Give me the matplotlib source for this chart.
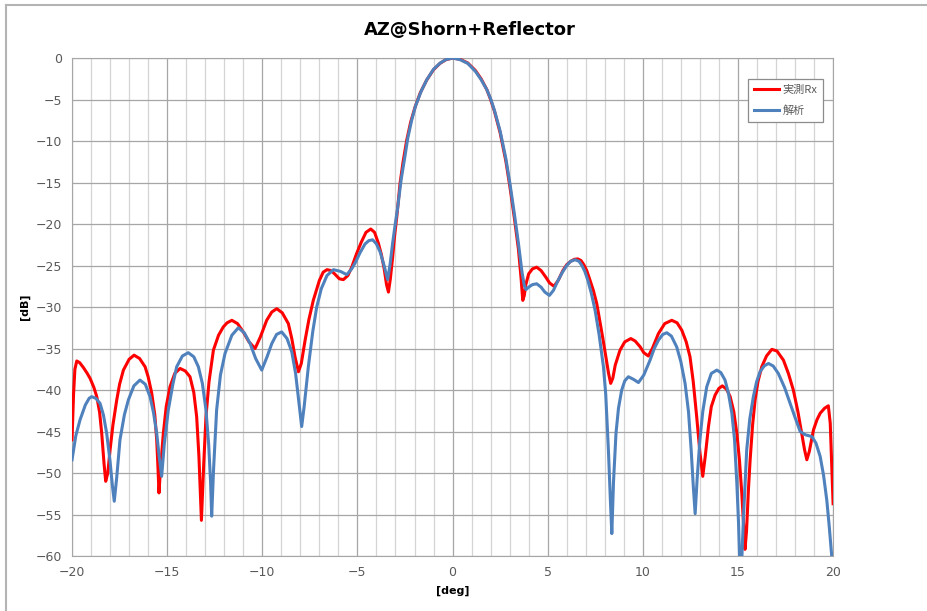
import matplotlib
matplotlib.use("Agg")
import matplotlib.pyplot as plt
from matplotlib.ticker import MultipleLocator
from matplotlib.lines import Line2D

# measured (実測Rx): angle [deg], level [dB]
rx_deg = [-20.0, -19.92, -19.85, -19.75, -19.6, -19.4, -19.2, -19.05, -18.85, -18.7,
          -18.55, -18.44, -18.32, -18.23, -18.12, -18.0, -17.85, -17.65, -17.5, -17.3,
          -17.0, -16.74, -16.45, -16.16, -16.0, -15.81, -15.65, -15.55, -15.48, -15.43,
          -15.35, -15.2, -15.05, -14.85, -14.6, -14.32, -14.05, -13.8, -13.6, -13.45,
          -13.33, -13.2, -13.08, -12.96, -12.8, -12.57, -12.3, -12.05, -11.85, -11.6,
          -11.3, -11.0, -10.7, -10.38, -10.1, -9.77, -9.5, -9.24, -8.95, -8.63,
          -8.45, -8.28, -8.1, -7.95, -7.75, -7.55, -7.32, -7.0, -6.8, -6.6,
          -6.4, -6.2, -5.95, -5.74, -5.5, -5.3, -5.05, -4.8, -4.55, -4.3,
          -4.1, -3.9, -3.75, -3.6, -3.47, -3.37, -3.27, -3.15, -3.05, -2.93,
          -2.76, -2.6, -2.41, -2.2, -1.97, -1.7, -1.36, -1.0, -0.66, -0.35,
          0.0, 0.4, 0.8, 1.2, 1.5, 1.8, 2.0, 2.2, 2.5, 2.8,
          3.02, 3.25, 3.46, 3.6, 3.69, 3.77, 3.85, 4.0, 4.2, 4.42,
          4.65, 4.9, 5.1, 5.33, 5.55, 5.8, 6.0, 6.2, 6.4, 6.58,
          6.75, 6.9, 7.05, 7.2, 7.4, 7.58, 7.75, 7.9, 8.1, 8.2,
          8.31, 8.42, 8.55, 8.8, 9.05, 9.37, 9.6, 9.86, 10.05, 10.29,
          10.5, 10.82, 11.15, 11.52, 11.8, 12.05, 12.28, 12.48, 12.65, 12.83,
          13.0, 13.15, 13.28, 13.45, 13.6, 13.8, 14.0, 14.18, 14.4, 14.59,
          14.78, 14.94, 15.08, 15.2, 15.3, 15.37, 15.45, 15.55, 15.64, 15.77,
          15.9, 16.05, 16.25, 16.5, 16.78, 17.05, 17.39, 17.65, 17.91, 18.15,
          18.35, 18.5, 18.62, 18.75, 18.97, 19.15, 19.32, 19.55, 19.75, 19.85,
          19.93, 20.0]
rx_db = [-46.0, -40.5, -37.5, -36.5, -36.7, -37.3, -38.0, -38.6, -39.7, -40.8,
         -42.7, -45.2, -48.8, -51.0, -50.0, -47.2, -44.2, -41.2, -39.3, -37.6,
         -36.3, -35.8, -36.2, -37.2, -38.4, -40.4, -43.0, -46.0, -49.5, -52.4,
         -49.5, -45.2, -42.0, -39.6, -38.0, -37.4, -37.7, -38.4, -40.3, -43.2,
         -48.0, -55.7, -49.0, -43.2, -39.0, -35.2, -33.4, -32.4, -31.9, -31.6,
         -32.0, -33.0, -34.2, -35.0, -33.6, -31.6, -30.6, -30.2, -30.7, -32.0,
         -33.8, -36.0, -37.8, -36.8, -34.0, -31.5, -29.2, -26.8, -25.8, -25.5,
         -25.6, -26.0, -26.6, -26.7, -26.2, -25.2, -23.6, -22.2, -21.0, -20.6,
         -21.0, -22.3, -23.6, -25.3, -27.3, -28.2, -26.6, -24.0, -21.5, -19.1,
         -15.1, -12.5, -9.9, -7.7, -5.9, -4.2, -2.65, -1.4, -0.64, -0.2,
         0.0, -0.15, -0.6, -1.5, -2.5, -3.8, -5.0, -6.4, -9.0, -12.4,
         -15.6, -19.3, -23.0, -26.5, -29.2, -28.6, -27.3, -26.0, -25.4, -25.2,
         -25.6, -26.4, -27.1, -27.5, -26.8, -25.6, -24.9, -24.5, -24.25, -24.2,
         -24.4, -24.9, -25.6, -26.6, -28.0, -29.6, -31.8, -33.8, -36.6, -38.0,
         -39.2, -38.6, -37.0, -35.2, -34.2, -33.8, -34.1, -34.8, -35.5, -35.9,
         -35.0, -33.2, -32.0, -31.6, -31.9, -32.8, -34.2, -36.0, -39.0, -43.2,
         -47.5, -50.4, -48.0, -44.4, -42.0, -40.6, -39.8, -39.5, -39.9, -40.8,
         -42.6, -45.2, -48.5, -52.4, -56.5, -59.2, -57.0, -52.0, -48.4, -44.2,
         -41.2, -39.0, -37.2, -35.9, -35.1, -35.3, -36.4, -38.0, -40.0, -42.6,
         -45.2, -47.2, -48.4, -47.4, -44.8, -43.6, -42.8, -42.2, -41.9, -44.0,
         -49.2, -53.7]

# analysis (解析): angle [deg], level [dB]
an_deg = [-20.0, -19.8, -19.58, -19.3, -19.1, -18.97, -18.75, -18.53, -18.35, -18.18,
          -18.0, -17.88, -17.78, -17.65, -17.48, -17.25, -17.04, -16.75, -16.43, -16.15,
          -15.9, -15.72, -15.55, -15.42, -15.29, -15.15, -14.94, -14.7, -14.5, -14.2,
          -13.89, -13.6, -13.36, -13.15, -12.96, -12.82, -12.72, -12.66, -12.56, -12.4,
          -12.2, -11.96, -11.6, -11.26, -10.95, -10.64, -10.35, -10.03, -9.75, -9.5,
          -9.25, -8.98, -8.7, -8.45, -8.25, -8.05, -7.93, -7.8, -7.58, -7.35,
          -7.14, -6.9, -6.6, -6.26, -5.9, -5.56, -5.3, -5.1, -4.85, -4.6,
          -4.4, -4.2, -4.0, -3.8, -3.6, -3.41, -3.28, -3.15, -3.0, -2.9,
          -2.7, -2.5, -2.35, -2.15, -1.95, -1.65, -1.35, -1.0, -0.65, -0.35,
          0.0, 0.4, 0.8, 1.2, 1.5, 1.8, 2.0, 2.2, 2.5, 2.8,
          3.02, 3.25, 3.46, 3.65, 3.77, 3.86, 4.0, 4.2, 4.42, 4.65,
          4.85, 5.09, 5.3, 5.5, 5.75, 6.0, 6.2, 6.44, 6.65, 6.8,
          6.95, 7.1, 7.3, 7.5, 7.7, 7.93, 8.05, 8.19, 8.29, 8.37,
          8.46, 8.59, 8.72, 8.89, 9.05, 9.24, 9.5, 9.77, 10.05, 10.38,
          10.6, 10.82, 11.05, 11.26, 11.5, 11.78, 12.0, 12.22, 12.4, 12.54,
          12.65, 12.75, 12.86, 13.0, 13.15, 13.36, 13.6, 13.89, 14.1, 14.32,
          14.5, 14.68, 14.82, 14.94, 15.03, 15.11, 15.2, 15.29, 15.38, 15.46,
          15.62, 15.81, 15.98, 16.16, 16.38, 16.6, 16.85, 17.12, 17.45, 17.74,
          18.0, 18.27, 18.55, 18.88, 19.1, 19.32, 19.5, 19.67, 19.8, 19.93,
          20.0]
an_db = [-48.4, -45.5, -43.6, -41.8, -41.0, -40.8, -41.0, -41.6, -43.0, -45.2,
         -48.6, -51.5, -53.4, -50.5, -46.0, -43.0, -41.2, -39.5, -38.8, -39.3,
         -40.8, -42.7, -45.2, -48.0, -50.4, -46.5, -42.4, -39.3, -37.2, -35.9,
         -35.5, -36.0, -37.2, -39.2, -42.4, -46.5, -51.0, -55.2, -49.5, -42.4,
         -38.2, -35.6, -33.4, -32.5, -33.1, -34.4, -36.2, -37.6, -36.0, -34.4,
         -33.3, -33.0, -33.8, -35.4, -38.0, -42.0, -44.4, -42.0, -37.2, -33.0,
         -30.0, -27.8, -26.2, -25.5, -25.7, -26.1, -25.4, -24.6, -23.4, -22.4,
         -22.0, -21.9, -22.4, -23.4, -25.0, -26.7, -24.8, -22.3, -19.8, -18.3,
         -14.6, -11.8, -9.6, -7.5, -5.8, -4.0, -2.6, -1.35, -0.6, -0.18,
         0.0, -0.2, -0.65, -1.6, -2.6, -3.8, -4.9, -6.3, -8.8, -12.1,
         -15.2, -18.8, -22.3, -25.8, -27.4, -27.9, -27.6, -27.3, -27.2, -27.6,
         -28.2, -28.6, -28.0, -27.0, -25.9, -25.0, -24.5, -24.3, -24.5, -25.0,
         -25.7, -26.7, -28.4, -30.5, -33.3, -37.2, -40.5, -47.2, -53.0, -57.3,
         -51.0, -45.2, -42.2, -40.0, -38.9, -38.4, -38.7, -39.1, -38.2, -36.4,
         -35.0, -34.0, -33.3, -33.1, -33.5, -34.8, -36.6, -39.2, -42.6, -47.2,
         -51.5, -54.9, -50.5, -46.0, -42.6, -39.6, -38.0, -37.6, -37.9, -38.8,
         -40.4, -42.8, -46.0, -51.2, -56.0, -62.0, -60.5, -55.3, -51.0, -47.2,
         -43.5, -40.8, -39.0, -37.8, -37.1, -36.8, -37.1, -38.0, -39.7, -41.6,
         -43.3, -45.0, -45.4, -45.6, -46.4, -48.0, -50.3, -53.3, -56.5, -60.0,
         -62.0]

fig = plt.figure(figsize=(9.27, 6.11), dpi=100)
ax = fig.add_axes([0.0777, 0.09, 0.821, 0.815])

# chart area border (only top and left edges are inside the screenshot)
fig.add_artist(Line2D([0.006, 1.0], [0.992, 0.992], color="#b4b4b4", lw=1.5))
fig.add_artist(Line2D([0.006, 0.006], [0.0, 0.992], color="#b4b4b4", lw=1.5))

ax.plot(rx_deg, rx_db, color="#ff0000", lw=2.2, label="実測Rx", zorder=3,
        solid_joinstyle="round")
ax.plot(an_deg, an_db, color="#4f81bd", lw=2.2, label="解析", zorder=4,
        solid_joinstyle="round")

ax.set_xlim(-20, 20)
ax.set_ylim(-60, 0)
ax.xaxis.set_major_locator(MultipleLocator(5))
ax.xaxis.set_minor_locator(MultipleLocator(1))
ax.yaxis.set_major_locator(MultipleLocator(5))
ax.grid(which="major", color="#a6a6a6", lw=0.9)
ax.grid(which="minor", axis="x", color="#d4d4d4", lw=0.9)
ax.set_axisbelow(True)
ax.tick_params(which="both", length=0, colors="#595959", labelsize=9, pad=7)
for s in ax.spines.values():
    s.set_color("#a6a6a6")

ax.set_xlabel("[deg]", fontsize=8, fontweight="bold", labelpad=5)
ax.set_ylabel("[dB]", fontsize=8, fontweight="bold", labelpad=4)
fig.suptitle("AZ@Shorn+Reflector", x=0.507, y=0.965, fontsize=13, fontweight="bold")

leg = ax.legend(loc="upper right", bbox_to_anchor=(0.987, 0.958), borderaxespad=0,
                fancybox=False, framealpha=1, edgecolor="#8c8c8c",
                handlelength=2.25, handletextpad=0.25, labelspacing=0.95,
                borderpad=0.55, labelcolor="#595959",
                prop={"family": ["Noto Sans CJK JP", "DejaVu Sans"], "size": 8})
leg.get_frame().set_linewidth(0.9)

fig.savefig("out.png", dpi=100)
